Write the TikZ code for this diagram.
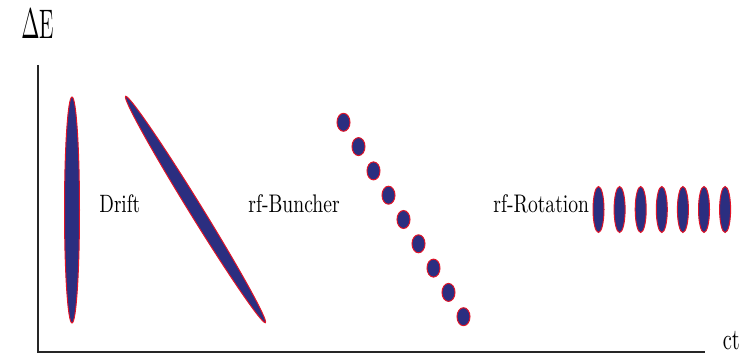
\documentclass[tikz,border=0pt]{standalone}
\usepackage{graphicx}
\usetikzlibrary{shapes.geometric}
\definecolor{bunch}{RGB}{43,46,128}
\definecolor{rim}{RGB}{225,20,40}
\begin{document}
\begin{tikzpicture}[x=0.5pt,y=0.5pt,
  beam/.style={fill=bunch,draw=rim,line width=0.5pt},
  axis/.style={line width=0.8pt,black!85},
  lbl/.style={inner sep=0pt,anchor=base west,font=\fontsize{9.8}{12}\selectfont}]
\useasboundingbox (0,0) rectangle (750,354);
% axes
\coordinate (O) at (38,2);
\coordinate (ytop) at (38,289);
\coordinate (xend) at (705,2);
\draw[axis] (ytop) -- (O) -- (xend);
\node[lbl,font=\fontsize{10.6}{12}\selectfont] (dE) at (21,315.5) {\scalebox{1}[1.95]{$\Delta$E}};
\node[lbl,font=\fontsize{10.2}{12}\selectfont] (ct) at (722.5,4.7) {\scalebox{1}[1.45]{ct}};
% initial bunch
\fill[beam] (72,144) ellipse [x radius=7.5, y radius=113];
% drift
\fill[beam, rotate around={-58.3:(195.5,144.5)}] (195.5,144.5) ellipse [x radius=133, y radius=6.5];
% buncher bunchlets
\foreach \i in {0,...,8}{
  \fill[beam] ({343.5+15*\i},{231.7-24.3*\i}) ellipse [x radius=6.5, y radius=9];
}
% rotated bunchlets
\foreach \i in {0,...,6}{
  \fill[beam] ({598.5+21.1*\i},144.5) ellipse [x radius=5.5, y radius=23];
}
\node[lbl,font=\fontsize{9.3}{12}\selectfont] (drift) at (99,141.5) {\scalebox{1}[1.35]{Drift}};
\node[lbl] (buncher) at (248,141.5) {\scalebox{1}[1.3]{rf-Buncher}};
\node[lbl] (rotation) at (493,141.5) {\scalebox{1}[1.3]{rf-Rotation}};
\end{tikzpicture}
\end{document}
